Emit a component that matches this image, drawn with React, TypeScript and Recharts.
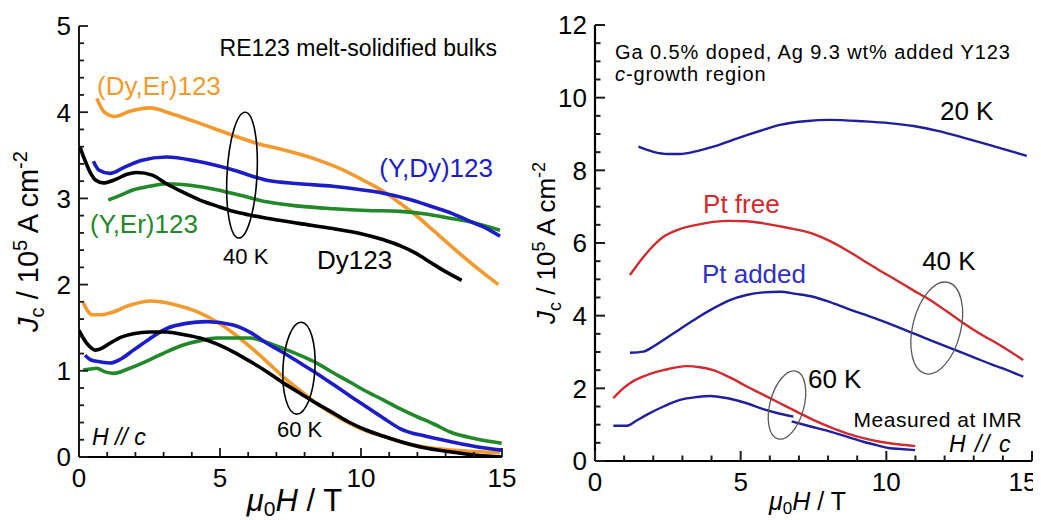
import React from 'react';
import { LineChart, Line, XAxis, YAxis, ReferenceDot, Label } from 'recharts';

type Pt = [number, number];

// ---------- Left panel: RE123 melt-solidified bulks (H // c) ----------
const dyEr40: Pt[] = [[0.63,4.16],[0.9,4.0],[1.28,3.95],[1.8,4.01],[2.52,4.05],[3.3,3.98],[4.29,3.87],[5.3,3.75],[6.3,3.64],[7.4,3.55],[8.43,3.45],[9.3,3.34],[10.2,3.19],[10.8,3.08],[11.4,2.94],[12.0,2.79],[12.56,2.63],[13.5,2.36],[14.2,2.17],[14.87,2.0]];
const yDy40: Pt[] = [[0.51,3.43],[0.7,3.33],[1.1,3.29],[1.6,3.36],[2.2,3.44],[3.1,3.48],[4.2,3.43],[5.47,3.33],[6.66,3.21],[7.8,3.17],[9.0,3.14],[10.0,3.1],[10.8,3.06],[11.7,2.99],[12.56,2.9],[13.2,2.83],[13.75,2.75],[14.4,2.66],[14.93,2.56]];
const yEr40: Pt[] = [[1.04,2.98],[1.5,3.04],[1.93,3.1],[2.5,3.14],[3.1,3.17],[4.0,3.15],[4.88,3.1],[5.8,3.03],[6.66,2.96],[7.8,2.91],[9.02,2.88],[10.2,2.86],[11.38,2.85],[12.3,2.82],[13.15,2.77],[14.1,2.71],[14.93,2.63]];
const dy40: Pt[] = [[0.03,3.6],[0.2,3.45],[0.4,3.3],[0.6,3.21],[0.86,3.18],[1.3,3.22],[1.7,3.28],[2.05,3.3],[2.6,3.27],[3.1,3.17],[3.7,3.07],[4.29,2.98],[4.9,2.91],[5.47,2.85],[6.0,2.81],[6.66,2.77],[7.8,2.71],[9.0,2.65],[10.0,2.59],[10.8,2.52],[11.4,2.45],[11.97,2.36],[12.5,2.25],[13.0,2.15],[13.57,2.05]];

const dyEr60: Pt[] = [[0.15,1.79],[0.3,1.7],[0.45,1.65],[0.8,1.65],[1.1,1.67],[1.8,1.76],[2.52,1.81],[3.1,1.79],[3.7,1.74],[4.3,1.67],[4.88,1.57],[5.5,1.43],[6.06,1.28],[6.65,1.11],[7.24,0.93],[7.85,0.77],[8.43,0.62],[9.0,0.5],[9.6,0.39],[10.2,0.3],[10.8,0.24],[11.6,0.16],[12.57,0.1],[13.7,0.07],[14.93,0.05]];
const yDy60: Pt[] = [[0.21,1.18],[0.4,1.13],[0.63,1.11],[1.1,1.09],[1.5,1.14],[1.93,1.24],[2.5,1.37],[3.1,1.49],[3.8,1.55],[4.53,1.57],[5.47,1.53],[6.1,1.44],[6.66,1.32],[7.25,1.21],[7.84,1.09],[8.43,0.97],[9.02,0.84],[9.6,0.71],[10.2,0.58],[10.8,0.45],[11.38,0.33],[12.3,0.24],[13.16,0.18],[14.1,0.12],[14.99,0.08]];
const yEr60: Pt[] = [[0.15,1.01],[0.4,1.02],[0.63,1.03],[0.9,0.99],[1.22,0.97],[1.8,1.03],[2.52,1.13],[3.1,1.22],[3.7,1.3],[4.3,1.35],[4.88,1.38],[6.06,1.38],[6.66,1.33],[7.24,1.26],[7.84,1.18],[8.43,1.09],[9.0,0.98],[9.6,0.87],[10.2,0.76],[10.8,0.66],[11.38,0.56],[11.97,0.47],[12.6,0.38],[13.16,0.29],[14.1,0.21],[14.99,0.16]];
const dy60: Pt[] = [[0,1.47],[0.15,1.38],[0.27,1.32],[0.42,1.27],[0.57,1.24],[0.8,1.26],[1.1,1.32],[1.5,1.39],[1.93,1.43],[2.5,1.45],[3.1,1.45],[3.7,1.42],[4.29,1.38],[4.9,1.31],[5.47,1.22],[6.06,1.11],[6.66,0.99],[7.24,0.86],[7.84,0.74],[8.43,0.62],[9.02,0.51],[9.6,0.4],[10.2,0.31],[10.8,0.24],[11.38,0.18],[12.2,0.11],[13.16,0.06],[14.1,0.02],[14.99,0.0]];

// ---------- Right panel: Ga 0.5% doped, Ag added Y123 ----------
const added20: Pt[] = [[1.49,8.65],[2.0,8.51],[2.5,8.45],[2.92,8.45],[3.5,8.53],[4.06,8.65],[4.6,8.8],[5.21,8.97],[5.8,9.12],[6.35,9.25],[7.2,9.35],[8.07,9.39],[9.21,9.35],[10.1,9.3],[10.93,9.22],[11.8,9.08],[12.64,8.9],[13.7,8.66],[14.82,8.4]];
const free40: Pt[] = [[1.2,5.12],[1.77,5.72],[2.35,6.17],[2.9,6.38],[3.49,6.5],[4.06,6.58],[4.63,6.61],[5.2,6.6],[5.78,6.54],[6.6,6.42],[7.49,6.25],[8.07,6.05],[8.64,5.8],[9.21,5.52],[9.8,5.23],[10.36,4.97],[10.9,4.71],[11.5,4.43],[12.07,4.12],[12.64,3.8],[13.2,3.51],[13.79,3.24],[14.7,2.78]];
const added40: Pt[] = [[1.2,2.98],[1.66,3.01],[2.0,3.15],[2.35,3.33],[2.9,3.62],[3.49,3.93],[4.06,4.2],[4.63,4.43],[5.2,4.57],[5.78,4.64],[6.35,4.66],[6.9,4.6],[7.49,4.52],[8.07,4.37],[8.64,4.2],[9.21,4.04],[9.78,3.88],[10.36,3.7],[10.93,3.51],[11.5,3.33],[12.07,3.15],[12.64,2.97],[13.22,2.78],[13.95,2.56],[14.7,2.32]];
const free60: Pt[] = [[0.63,1.73],[0.9,1.95],[1.2,2.14],[1.77,2.36],[2.35,2.5],[3.15,2.61],[3.6,2.58],[4.06,2.5],[4.63,2.3],[5.21,2.05],[5.78,1.82],[6.35,1.59],[6.92,1.36],[7.49,1.13],[8.07,0.93],[8.64,0.76],[9.21,0.63],[9.78,0.53],[10.4,0.46],[10.99,0.41]];
const added60a: Pt[] = [[0.63,0.97],[1.09,0.97],[1.4,1.1],[1.77,1.27],[2.35,1.5],[2.92,1.68],[3.5,1.76],[3.95,1.79],[4.6,1.72],[5.21,1.59],[5.8,1.42],[6.35,1.3],[6.81,1.22]];
const added60b: Pt[] = [[6.75,1.09],[7.4,0.95],[8.07,0.81],[8.64,0.67],[9.21,0.53],[9.7,0.43],[10.13,0.35],[10.5,0.33],[10.99,0.3]];

// ---------- Ticks ----------
const xTicks = [0,1,2,3,4,5,6,7,8,9,10,11,12,13,14,15];
const xMajor = [0,5,10,15];
const leftYTicks = [0,0.2,0.4,0.6,0.8,1,1.2,1.4,1.6,1.8,2,2.2,2.4,2.6,2.8,3,3.2,3.4,3.6,3.8,4,4.2,4.4,4.6,4.8,5];
const leftYMajor = [0,1,2,3,4,5];
const rightYTicks = [0,0.5,1,1.5,2,2.5,3,3.5,4,4.5,5,5.5,6,6.5,7,7.5,8,8.5,9,9.5,10,10.5,11,11.5,12];
const rightYMajor = [0,2,4,6,8,10,12];

// ---------- Annotations ----------
type Note = { x: number; y: number; text: string; color: string; size: number; anchor: 'start' | 'end' | 'middle'; italic?: boolean; italicFirst?: boolean; ls?: number };
const leftNotes: Note[] = [
  { x: 14.82, y: 4.65, text: 'RE123 melt-solidified bulks', color: '#000', size: 23, anchor: 'end' },
  { x: 0.64, y: 4.2, text: '(Dy,Er)123', color: '#F39A2E', size: 26, anchor: 'start' },
  { x: 14.68, y: 3.25, text: '(Y,Dy)123', color: '#1D1DC8', size: 26, anchor: 'end' },
  { x: 0.39, y: 2.6, text: '(Y,Er)123', color: '#23882A', size: 26, anchor: 'start' },
  { x: 5.11, y: 2.24, text: '40 K', color: '#000', size: 22, anchor: 'start' },
  { x: 8.44, y: 2.18, text: 'Dy123', color: '#000', size: 26, anchor: 'start' },
  { x: 0.46, y: 0.14, text: 'H // c', color: '#000', size: 23, anchor: 'start', italic: true },
  { x: 7.02, y: 0.23, text: '60 K', color: '#000', size: 22, anchor: 'start' },
];
const rightNotes: Note[] = [
  { x: 0.69, y: 11.06, text: 'Ga 0.5% doped, Ag 9.3 wt% added Y123', color: '#000', size: 20, anchor: 'start', ls: 0.9 },
  { x: 0.69, y: 10.47, text: 'c-growth region', color: '#000', size: 20, anchor: 'start', italicFirst: true, ls: 0.9 },
  { x: 11.84, y: 9.39, text: '20 K', color: '#000', size: 26, anchor: 'start' },
  { x: 3.71, y: 6.83, text: 'Pt free', color: '#D42A2E', size: 26, anchor: 'start' },
  { x: 3.67, y: 4.9, text: 'Pt added', color: '#3030C4', size: 26, anchor: 'start' },
  { x: 11.23, y: 5.26, text: '40 K', color: '#000', size: 26, anchor: 'start' },
  { x: 7.31, y: 2.01, text: '60 K', color: '#000', size: 26, anchor: 'start' },
  { x: 14.66, y: 0.94, text: 'Measured at IMR', color: '#000', size: 21, anchor: 'end', ls: 0.5 },
  { x: 14.32, y: 0.24, text: 'H // c', color: '#000', size: 23, anchor: 'end', italic: true, ls: 1.6 },
];
type Ell = { x: number; y: number; rx: number; ry: number; rot: number; color: string; width: number };
const leftEllipses: Ell[] = [
  { x: 5.78, y: 3.27, rx: 15, ry: 63, rot: 3, color: '#000', width: 1.6 },
  { x: 7.8, y: 1.03, rx: 16, ry: 46, rot: 3, color: '#000', width: 1.6 },
];
const rightEllipses: Ell[] = [
  { x: 11.73, y: 3.66, rx: 24, ry: 47, rot: 14, color: '#5a5a5a', width: 1.3 },
  { x: 6.59, y: 1.54, rx: 17, ry: 35, rot: 15, color: '#5a5a5a', width: 1.3 },
];

const FONT = '"Liberation Sans", Arial, Helvetica, sans-serif';
const rows = (pts: Pt[]) => pts.map(([x, y]) => ({ x, y }));

type Side = 'bottom' | 'top' | 'left' | 'right';
function makeTick(side: Side, majors: number[], majorLen: number, minorLen: number, labelled: boolean, sw: number, lastShift = 0) {
  return (props: any) => {
    const { x, y, payload } = props;
    const v = payload.value;
    const major = majors.some((m) => Math.abs(m - v) < 1e-6);
    const len = major ? majorLen : minorLen;
    let x2 = x, y2 = y;
    if (side === 'bottom') y2 = y - len;
    if (side === 'top') y2 = y + len;
    if (side === 'left') x2 = x + len;
    if (side === 'right') x2 = x - len;
    let label: any = null;
    if (labelled && major) {
      if (side === 'bottom') {
        const isLast = v === majors[majors.length - 1];
        label = (
          <text x={x + (isLast ? lastShift : 0)} y={y + 30} textAnchor="middle" fontSize={26} fontFamily={FONT} fill="#000">{v}</text>
        );
      } else if (side === 'left') {
        label = (
          <text x={x - 8} y={y} dy="0.36em" textAnchor="end" fontSize={26} fontFamily={FONT} fill="#000">{v}</text>
        );
      }
    }
    return (
      <g>
        <line x1={x} y1={y} x2={x2} y2={y2} stroke="#1a1a1a" strokeWidth={sw} />
        {label}
      </g>
    );
  };
}

function renderNote(n: Note, i: number, prefix: string) {
  return (
    <ReferenceDot
      key={prefix + 'n' + i}
      x={n.x}
      y={n.y}
      r={0}
      ifOverflow="visible"
      shape={(p: any) => (
        <text x={p.cx} y={p.cy} textAnchor={n.anchor} fontSize={n.size} fontFamily={FONT} fill={n.color} fontStyle={n.italic ? 'italic' : 'normal'} letterSpacing={n.ls || 0}>
          {n.italicFirst ? (
            <>
              <tspan fontStyle="italic">{n.text.slice(0, 1)}</tspan>
              <tspan>{n.text.slice(1)}</tspan>
            </>
          ) : (
            n.text
          )}
        </text>
      )}
    />
  );
}

function renderEllipse(e: Ell, i: number, prefix: string) {
  return (
    <ReferenceDot
      key={prefix + 'e' + i}
      x={e.x}
      y={e.y}
      r={0}
      ifOverflow="visible"
      shape={(p: any) => (
        <ellipse cx={p.cx} cy={p.cy} rx={e.rx} ry={e.ry} transform={`rotate(${e.rot} ${p.cx} ${p.cy})`} fill="none" stroke={e.color} strokeWidth={e.width} />
      )}
    />
  );
}

const YTitle = (tx: number, size: number) => (props: any) => {
  const vb = props.viewBox || {};
  const cy = (vb.y || 0) + (vb.height || 0) / 2;
  const x = (vb.x || 0) + tx;
  const s = Math.round(size * 0.7);
  return (
    <text x={x} y={cy} transform={`rotate(-90 ${x} ${cy})`} textAnchor="middle" fontSize={size} fontFamily={FONT} fill="#000">
      <tspan fontStyle="italic">J</tspan>
      <tspan fontSize={s} dy={size * 0.22}>c</tspan>
      <tspan dy={-size * 0.22}>{' / 10'}</tspan>
      <tspan fontSize={s} dy={-size * 0.38}>5</tspan>
      <tspan dy={size * 0.38}>{' A cm'}</tspan>
      <tspan fontSize={s} dy={-size * 0.38}>-2</tspan>
    </text>
  );
};

const XTitle = (ty: number, size: number, dx: number) => (props: any) => {
  const vb = props.viewBox || {};
  const cx = (vb.x || 0) + (vb.width || 0) / 2 + dx;
  const y = (vb.y || 0) + ty;
  const s = Math.round(size * 0.68);
  return (
    <text x={cx} y={y} textAnchor="middle" fontSize={size} fontFamily={FONT} fill="#000">
      <tspan fontStyle="italic">μ</tspan>
      <tspan fontSize={s} dy={size * 0.16}>0</tspan>
      <tspan fontStyle="italic" dy={-size * 0.16}>H</tspan>
      <tspan>{' / T'}</tspan>
    </text>
  );
};

export default function App() {
  const leftLines: { d: Pt[]; c: string; k: string }[] = [
    { d: dyEr40, c: '#F39A2E', k: 'dyEr40' },
    { d: yEr40, c: '#23882A', k: 'yEr40' },
    { d: yDy40, c: '#1D1DC8', k: 'yDy40' },
    { d: dy40, c: '#000000', k: 'dy40' },
    { d: dyEr60, c: '#F39A2E', k: 'dyEr60' },
    { d: yEr60, c: '#23882A', k: 'yEr60' },
    { d: yDy60, c: '#1D1DC8', k: 'yDy60' },
    { d: dy60, c: '#000000', k: 'dy60' },
  ];
  const rightLines: { d: Pt[]; c: string; k: string }[] = [
    { d: added20, c: '#1F1F9C', k: 'added20' },
    { d: free40, c: '#D22A2E', k: 'free40' },
    { d: added40, c: '#1F1F9C', k: 'added40' },
    { d: free60, c: '#D22A2E', k: 'free60' },
    { d: added60a, c: '#1F1F9C', k: 'added60a' },
    { d: added60b, c: '#1F1F9C', k: 'added60b' },
  ];

  return (
    <div style={{ position: 'relative', width: 1025, height: 512, background: '#fff' }}>
      <style>{'html { overflow: hidden; }'}</style>
      <div style={{ position: 'absolute', left: 0, top: 0 }}>
        <LineChart width={530} height={512} margin={{ top: 18, right: 36, bottom: 3, left: 11 }}>
          <XAxis xAxisId="b" dataKey="x" type="number" domain={[0, 15]} ticks={xTicks} interval={0} orientation="bottom" height={60} tickSize={0} tickMargin={0} tickLine={false} axisLine={{ stroke: '#000', strokeWidth: 1.8 }} tick={makeTick('bottom', xMajor, 9, 5, true, 1.8)} allowDataOverflow>
            <Label content={XTitle(54, 31, 4)} />
          </XAxis>
          <XAxis xAxisId="t" dataKey="x" type="number" domain={[0, 15]} ticks={xTicks} interval={0} orientation="top" height={0} tickSize={0} tickMargin={0} tickLine={false} axisLine={{ stroke: '#000', strokeWidth: 1.8 }} tick={makeTick('top', xMajor, 9, 5, false, 1.8)} allowDataOverflow />
          <YAxis yAxisId="l" type="number" domain={[0, 5]} ticks={leftYTicks} interval={0} orientation="left" width={60} tickSize={0} tickMargin={0} tickLine={false} axisLine={{ stroke: '#000', strokeWidth: 1.8 }} tick={makeTick('left', leftYMajor, 9, 5, true, 1.8)} allowDataOverflow>
            <Label content={YTitle(19, 29)} />
          </YAxis>
          <YAxis yAxisId="r" type="number" domain={[0, 5]} ticks={leftYTicks} interval={0} orientation="right" width={0} tickSize={0} tickMargin={0} tickLine={false} axisLine={{ stroke: '#000', strokeWidth: 1.8 }} tick={makeTick('right', leftYMajor, 9, 5, false, 1.8)} allowDataOverflow />
          {leftLines.map((l) => (
            <Line key={l.k} xAxisId="b" yAxisId="l" data={rows(l.d)} dataKey="y" type="monotone" stroke={l.c} strokeWidth={3.6} dot={false} activeDot={false} isAnimationActive={false} />
          ))}
          {leftEllipses.map((e, i) => React.cloneElement(renderEllipse(e, i, 'L'), { xAxisId: 'b', yAxisId: 'l' }))}
          {leftNotes.map((n, i) => React.cloneElement(renderNote(n, i, 'L'), { xAxisId: 'b', yAxisId: 'l' }))}
        </LineChart>
      </div>
      <div style={{ position: 'absolute', left: 522, top: 0 }}>
        <LineChart width={511} height={512} margin={{ top: 17, right: 9, bottom: 4, left: 5 }}>
          <XAxis xAxisId="b" dataKey="x" type="number" domain={[0, 15]} ticks={xTicks} interval={0} orientation="bottom" height={55} tickSize={0} tickMargin={0} tickLine={false} axisLine={{ stroke: '#000', strokeWidth: 2.2 }} tick={makeTick('bottom', xMajor, 10, 5.5, true, 2, -9)} allowDataOverflow>
            <Label content={XTitle(49, 25, -6)} />
          </XAxis>
          <XAxis xAxisId="t" dataKey="x" type="number" domain={[0, 15]} ticks={xTicks} interval={0} orientation="top" height={0} tickSize={0} tickMargin={0} tickLine={false} axisLine={{ stroke: '#000', strokeWidth: 2.2 }} tick={makeTick('top', xMajor, 10, 5.5, false, 2)} allowDataOverflow />
          <YAxis yAxisId="l" type="number" domain={[0, 12]} ticks={rightYTicks} interval={0} orientation="left" width={60} tickSize={0} tickMargin={0} tickLine={false} axisLine={{ stroke: '#000', strokeWidth: 2.2 }} tick={makeTick('left', rightYMajor, 10, 5.5, true, 2)} allowDataOverflow>
            <Label content={YTitle(20, 26)} />
          </YAxis>
          <YAxis yAxisId="r" type="number" domain={[0, 12]} ticks={rightYTicks} interval={0} orientation="right" width={0} tickSize={0} tickMargin={0} tickLine={false} axisLine={{ stroke: '#000', strokeWidth: 2.2 }} tick={makeTick('right', rightYMajor, 10, 5.5, false, 2)} allowDataOverflow />
          {rightLines.map((l) => (
            <Line key={l.k} xAxisId="b" yAxisId="l" data={rows(l.d)} dataKey="y" type="monotone" stroke={l.c} strokeWidth={2.4} dot={false} activeDot={false} isAnimationActive={false} />
          ))}
          {rightEllipses.map((e, i) => React.cloneElement(renderEllipse(e, i, 'R'), { xAxisId: 'b', yAxisId: 'l' }))}
          {rightNotes.map((n, i) => React.cloneElement(renderNote(n, i, 'R'), { xAxisId: 'b', yAxisId: 'l' }))}
        </LineChart>
      </div>
    </div>
  );
}
